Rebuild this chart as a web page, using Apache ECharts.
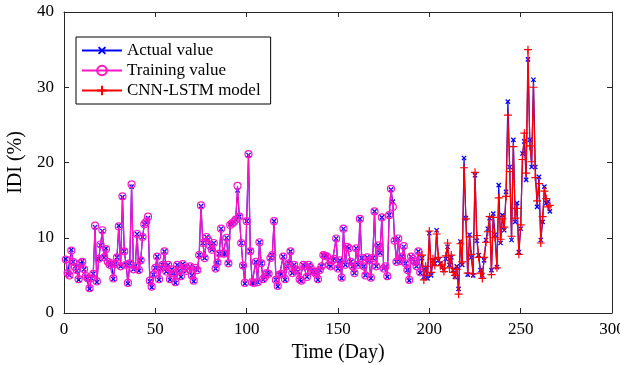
<!DOCTYPE html>
<html>
<head>
<meta charset="utf-8">
<script src="https://cdn.jsdelivr.net/npm/echarts@6/dist/echarts.min.js"></script>
<style>html,body{margin:0;padding:0;background:#fff}#c{width:620px;height:365px}</style>
</head>
<body>
<div id="c"></div>
<script>
// Actual IDI values (%), day 1..266
const actual = [
 7.2,5.2,5.0,8.4,6.8,6.2,5.6,4.4,6.6,6.9,
 5.8,4.8,4.6,3.2,4.6,5.2,11.4,4.1,7.2,9.0,
 10.9,7.4,8.6,6.8,6.3,6.6,4.5,6.5,7.4,11.6,
 6.2,15.4,8.2,6.4,3.9,6.6,16.8,5.8,6.2,10.5,
 5.6,7.0,10.1,11.8,12.0,12.6,4.2,3.4,5.1,6.0,
 7.5,4.4,5.9,6.4,8.2,5.5,6.4,4.4,5.8,5.3,
 4.0,6.4,5.6,4.8,6.5,6.0,5.6,5.9,6.2,5.0,
 4.2,6.0,5.7,7.7,14.2,9.3,7.3,10.1,9.7,8.9,
 8.4,9.3,5.9,6.7,7.9,11.2,7.9,7.9,10.0,6.6,
 11.8,11.9,12.1,12.4,16.3,12.8,9.3,6.2,3.9,12.2,
 21.0,8.2,4.0,4.0,6.8,4.1,9.4,6.6,4.4,4.8,
 5.3,5.2,7.3,7.7,12.2,4.4,3.5,5.1,5.2,7.5,
 4.4,6.2,6.6,8.2,5.3,6.4,5.8,5.5,4.4,4.2,
 6.4,6.2,4.8,6.4,6.0,5.5,5.5,5.2,4.4,5.7,
 6.2,7.7,7.6,7.5,6.4,6.2,7.0,7.2,9.9,5.9,
 7.0,4.6,11.2,6.4,8.8,8.6,6.8,6.2,5.3,8.6,
 6.4,12.5,7.3,6.2,5.0,7.4,7.0,4.6,7.3,13.5,
 6.2,9.0,8.0,12.7,5.9,6.2,4.8,13.0,16.4,14.8,
 9.7,6.8,9.9,6.8,7.5,8.8,6.6,5.7,4.3,7.5,
 7.2,6.8,6.2,8.2,5.3,7.3,4.8,6.0,4.6,10.6,
 5.0,7.0,6.6,11.0,7.0,6.6,6.1,5.7,7.2,8.8,
 6.4,7.4,5.7,4.8,6.2,3.2,9.5,6.4,20.6,12.6,
 5.1,10.4,7.4,5.0,18.3,9.6,7.7,5.7,5.0,7.0,
 9.7,11.2,12.6,5.7,13.2,10.4,6.1,17.0,9.3,13.0,
 11.0,16.1,28.1,19.4,9.7,23.0,12.1,14.6,8.1,11.2,
 21.2,22.8,17.7,33.7,23.0,19.4,31.0,19.4,14.1,18.1,
 9.7,12.1,16.8,14.6,14.8,13.5
];
// Training fit values, day 1..195
const training = [
 7.1,5.3,5.0,8.3,6.8,6.1,5.7,4.5,6.6,6.8,
 5.8,4.9,4.6,3.3,4.6,5.2,11.6,4.2,7.2,9.1,
 11.0,7.4,8.5,6.8,6.4,6.6,4.6,6.5,7.4,11.5,
 6.2,15.5,8.2,6.4,4.0,6.6,17.1,5.8,6.2,10.5,
 5.7,7.0,10.1,11.8,12.1,12.8,4.3,3.5,5.1,6.0,
 7.5,4.5,5.9,6.4,8.2,5.5,6.4,4.5,5.8,5.3,
 4.1,6.4,5.6,4.9,6.5,6.0,5.6,5.9,6.2,5.0,
 4.3,6.0,5.7,7.7,14.3,9.3,7.3,10.1,9.7,8.9,
 8.4,9.3,5.9,6.7,7.9,11.2,7.9,7.9,10.0,6.6,
 11.7,11.9,12.1,12.4,16.9,12.8,9.3,6.3,4.0,12.2,
 21.1,8.2,4.1,4.0,6.8,4.1,9.4,6.6,4.5,4.8,
 5.3,5.2,7.3,7.7,12.2,4.4,3.6,5.1,5.2,7.5,
 4.5,6.2,6.6,8.2,5.3,6.4,5.8,5.5,4.5,4.3,
 6.4,6.2,4.8,6.4,6.0,5.5,5.5,5.2,4.5,5.7,
 6.2,7.7,7.6,7.5,6.4,6.2,7.0,7.2,9.9,5.9,
 7.0,4.7,11.2,6.4,8.8,8.6,6.8,6.2,5.3,8.6,
 6.4,12.5,7.3,6.2,5.0,7.4,7.0,4.7,7.3,13.5,
 6.2,9.0,8.0,12.7,5.9,6.2,4.9,13.0,16.5,14.1,
 9.6,6.8,9.9,6.9,7.5,8.9,6.6,5.7,4.4,7.5,
 7.2,6.8,6.2,8.2,5.4
];
// CNN-LSTM predictions, day 196..266
const predStartDay = 196;
const prediction = [
 7.7,4.4,6.2,5.0,10.9,
 5.4,7.2,6.3,10.5,7.4,6.3,6.4,5.5,7.6,9.3,
 6.0,7.7,5.4,5.0,5.8,2.5,9.2,6.8,19.3,12.5,
 5.3,10.1,7.8,5.2,18.7,10.3,7.4,5.3,4.6,7.4,
 9.4,10.8,12.8,5.1,12.7,10.0,6.0,15.3,9.8,12.5,
 11.4,15.5,26.3,18.8,10.2,22.1,12.6,13.9,7.8,11.7,
 20.4,23.9,18.6,35.0,22.2,20.1,30.0,18.0,14.9,17.2,
 9.3,12.8,16.2,15.2,14.1,14.3
];
const xTicks = [0, 50, 100, 150, 200, 250, 300];
const yTicks = [0, 10, 20, 30, 40];

const FONT = 'Liberation Serif';
const BLUE = '#0000ff', PINK = '#ff14c4', RED = '#ff0000';
const plusPath = 'path://M5,0V10M0,5H10';
const circlePath = 'path://M10,5A5,5 0 1,1 0,5A5,5 0 1,1 10,5Z';

const toPairs = (arr, start) => arr.map((v, i) => [start + i, v]);

const chart = echarts.init(document.getElementById('c'), null, {renderer: 'canvas'});
const axisLine = {show: true, onZero: false, lineStyle: {color: '#262626', width: 1}};
const tick = {show: true, inside: true, length: 5, lineStyle: {color: '#262626', width: 1}};
chart.setOption({
  animation: false,
  backgroundColor: '#fff',
  grid: {left: 64, right: 8, top: 12, bottom: 52, containLabel: false, outerBoundsMode: 'none'},
  legend: {
    left: 76, top: 37, orient: 'vertical',
    backgroundColor: '#fff', borderColor: '#000', borderWidth: 1,
    padding: [5, 10, 5, 5], itemGap: 3, itemWidth: 40, itemHeight: 12,
    selectedMode: false,
    textStyle: {fontFamily: FONT, fontSize: 17, color: '#000'},
    data: ['Actual value', 'Training value', 'CNN-LSTM model']
  },
  xAxis: [{
    type: 'value', min: xTicks[0], max: xTicks[xTicks.length - 1], interval: 50,
    axisLine, axisTick: tick, splitLine: {show: false},
    axisLabel: {fontFamily: FONT, fontSize: 17, color: '#000', margin: 8},
    name: 'Time (Day)', nameLocation: 'middle', nameGap: 28,
    nameTextStyle: {fontFamily: FONT, fontSize: 20, color: '#000'}
  }, {
    type: 'value', position: 'top', min: 0, max: 300, interval: 50,
    axisLine, axisTick: tick, axisLabel: {show: false}, splitLine: {show: false}
  }],
  yAxis: [{
    type: 'value', min: yTicks[0], max: yTicks[yTicks.length - 1], interval: 10,
    axisLine, axisTick: tick, splitLine: {show: false},
    axisLabel: {fontFamily: FONT, fontSize: 17, color: '#000', margin: 10},
    name: 'IDI (%)', nameLocation: 'middle', nameGap: 33,
    nameTextStyle: {fontFamily: FONT, fontSize: 20, color: '#000'}
  }, {
    type: 'value', position: 'right', min: 0, max: 40, interval: 10,
    axisLine, axisTick: tick, axisLabel: {show: false}, splitLine: {show: false}
  }],
  series: [{
    name: 'Actual value', type: 'line', data: toPairs(actual, 1),
    symbol: plusPath, symbolRotate: 45, symbolSize: 6,
    lineStyle: {color: BLUE, width: 1.2},
    itemStyle: {color: 'rgba(0,0,0,0)', borderColor: BLUE, borderWidth: 1.3},
    emphasis: {disabled: true}, z: 2
  }, {
    name: 'Training value', type: 'line', data: toPairs(training, 1),
    symbol: circlePath, symbolSize: 7,
    lineStyle: {color: PINK, width: 1.2},
    itemStyle: {color: 'rgba(0,0,0,0)', borderColor: PINK, borderWidth: 1.2},
    emphasis: {disabled: true}, z: 3
  }, {
    name: 'CNN-LSTM model', type: 'line', data: toPairs(prediction, predStartDay),
    symbol: plusPath, symbolSize: 8,
    lineStyle: {color: RED, width: 1.2},
    itemStyle: {color: 'rgba(0,0,0,0)', borderColor: RED, borderWidth: 1.2},
    emphasis: {disabled: true}, z: 4
  }]
});
</script>
</body>
</html>
